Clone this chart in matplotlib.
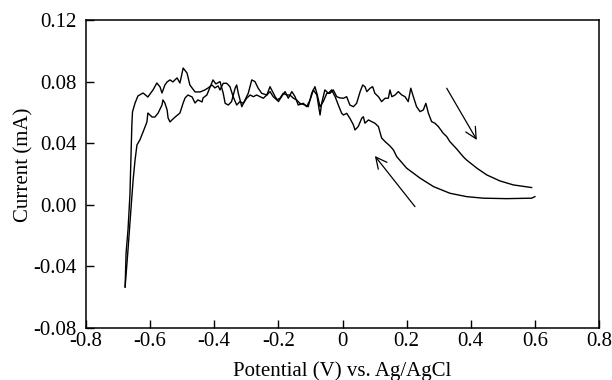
import matplotlib
matplotlib.use("Agg")
import matplotlib.pyplot as plt

plt.rcParams['font.family'] = ['Liberation Serif', 'DejaVu Serif']

# Forward scan (steep rise at left, upper branch at right)
fwd_x = [-0.678, -0.675, -0.669, -0.663, -0.660, -0.657, -0.655, -0.647, -0.638, -0.622,
         -0.607, -0.591, -0.579, -0.569, -0.563, -0.554, -0.547, -0.538, -0.529, -0.516,
         -0.507, -0.497, -0.485, -0.476, -0.460, -0.444, -0.429, -0.419, -0.407, -0.398,
         -0.388, -0.382, -0.372, -0.361, -0.351, -0.341, -0.330, -0.320, -0.309, -0.299,
         -0.288, -0.278, -0.268, -0.257, -0.247, -0.236, -0.226, -0.216, -0.205, -0.195,
         -0.185, -0.174, -0.164, -0.153, -0.143, -0.133, -0.117, -0.107, -0.096, -0.086,
         -0.080, -0.070, -0.060, -0.049, -0.039, -0.029, -0.018, -0.008, 0.003, 0.013,
         0.023, 0.034, 0.044, 0.055, 0.063, 0.070, 0.076, 0.086, 0.094, 0.101,
         0.112, 0.122, 0.133, 0.143, 0.148, 0.154, 0.164, 0.174, 0.185, 0.195,
         0.205, 0.213, 0.221, 0.231, 0.242, 0.252, 0.260, 0.268, 0.278, 0.288,
         0.299, 0.314, 0.325, 0.335, 0.356, 0.377, 0.387, 0.419, 0.450, 0.491,
         0.533, 0.590]
fwd_y = [-0.0534, -0.0313, -0.0163, 0.0064, 0.0291, 0.0518, 0.0603, 0.0661, 0.0707, 0.0726,
         0.0700, 0.0746, 0.0791, 0.0765, 0.0726, 0.0778, 0.0798, 0.0811, 0.0798, 0.0824,
         0.0791, 0.0888, 0.0856, 0.0778, 0.0733, 0.0733, 0.0746, 0.0759, 0.0778, 0.0759,
         0.0772, 0.0746, 0.0789, 0.0789, 0.0767, 0.0702, 0.0648, 0.0670, 0.0659, 0.0692,
         0.0713, 0.0702, 0.0713, 0.0702, 0.0692, 0.0713, 0.0735, 0.0702, 0.0681, 0.0692,
         0.0724, 0.0713, 0.0713, 0.0692, 0.0681, 0.0659, 0.0648, 0.0637, 0.0724, 0.0767,
         0.0724, 0.0637, 0.0670, 0.0724, 0.0724, 0.0746, 0.0702, 0.0694, 0.0692, 0.0702,
         0.0648, 0.0637, 0.0659, 0.0735, 0.0778, 0.0767, 0.0735, 0.0757, 0.0767, 0.0724,
         0.0702, 0.0670, 0.0692, 0.0692, 0.0746, 0.0702, 0.0713, 0.0735, 0.0713, 0.0702,
         0.0670, 0.0757, 0.0702, 0.0637, 0.0605, 0.0616, 0.0659, 0.0594, 0.0540, 0.0530,
         0.0508, 0.0465, 0.0443, 0.0410, 0.0363, 0.0311, 0.0291, 0.0238, 0.0194, 0.0155,
         0.0129, 0.0112]

# Reverse scan (lower branch at right, returning to the left end)
rev_x = [-0.678, -0.669, -0.660, -0.653, -0.647, -0.641, -0.632, -0.622, -0.610, -0.607,
         -0.594, -0.585, -0.575, -0.563, -0.560, -0.554, -0.547, -0.544, -0.538, -0.532,
         -0.522, -0.507, -0.497, -0.491, -0.482, -0.469, -0.460, -0.451, -0.438, -0.435,
         -0.423, -0.413, -0.404, -0.395, -0.382, -0.372, -0.366, -0.356, -0.346, -0.335,
         -0.330, -0.325, -0.314, -0.304, -0.294, -0.283, -0.273, -0.263, -0.252, -0.236,
         -0.226, -0.221, -0.210, -0.200, -0.190, -0.179, -0.169, -0.158, -0.148, -0.138,
         -0.122, -0.112, -0.101, -0.091, -0.080, -0.070, -0.065, -0.055, -0.044, -0.034,
         -0.023, -0.013, -0.003, 0.003, 0.013, 0.023, 0.034, 0.039, 0.049, 0.060,
         0.065, 0.070, 0.081, 0.091, 0.101, 0.112, 0.122, 0.133, 0.148, 0.159,
         0.169, 0.200, 0.242, 0.284, 0.335, 0.387, 0.439, 0.512, 0.590, 0.600]
rev_y = [-0.0534, -0.0293, -0.0033, 0.0162, 0.0291, 0.0389, 0.0421, 0.0473, 0.0538, 0.0596,
         0.0570, 0.0570, 0.0596, 0.0648, 0.0681, 0.0661, 0.0616, 0.0564, 0.0538, 0.0551,
         0.0570, 0.0596, 0.0661, 0.0694, 0.0713, 0.0700, 0.0661, 0.0681, 0.0668, 0.0694,
         0.0713, 0.0765, 0.0811, 0.0785, 0.0800, 0.0724, 0.0659, 0.0648, 0.0670, 0.0757,
         0.0778, 0.0724, 0.0637, 0.0681, 0.0724, 0.0811, 0.0800, 0.0757, 0.0724, 0.0713,
         0.0767, 0.0746, 0.0702, 0.0670, 0.0702, 0.0735, 0.0692, 0.0735, 0.0702, 0.0648,
         0.0659, 0.0637, 0.0681, 0.0746, 0.0713, 0.0583, 0.0659, 0.0746, 0.0724, 0.0746,
         0.0702, 0.0648, 0.0596, 0.0583, 0.0594, 0.0562, 0.0519, 0.0486, 0.0508, 0.0562,
         0.0572, 0.0530, 0.0551, 0.0540, 0.0530, 0.0508, 0.0434, 0.0410, 0.0382, 0.0356,
         0.0313, 0.0238, 0.0173, 0.0118, 0.0075, 0.0053, 0.0043, 0.0040, 0.0043, 0.0053]

# Scan-direction arrows: (tail, tip) in data units
arrow_fwd = ((0.325, 0.0757), (0.419, 0.0421))
arrow_rev = ((0.226, -0.0012), (0.101, 0.0317))

xticks = [-0.8, -0.6, -0.4, -0.2, 0, 0.2, 0.4, 0.6, 0.8]
xticklabels = ['-0.8', '-0.6', '-0.4', '-0.2', '0', '0.2', '0.4', '0.6', '0.8']
yticks = [-0.08, -0.04, 0.00, 0.04, 0.08, 0.12]
yticklabels = ['-0.08', '-0.04', '0.00', '0.04', '0.08', '0.12']

fig = plt.figure(figsize=(6.12, 3.80), dpi=100)
ax = fig.add_axes([86/612, 1 - 328/380, (599-86)/612, (328-20)/380])

ax.plot(fwd_x, fwd_y, color='black', lw=1.0)
ax.plot(rev_x, rev_y, color='black', lw=1.0)

for tail, tip in (arrow_fwd, arrow_rev):
    ax.annotate('', xy=tip, xytext=tail,
                arrowprops=dict(arrowstyle='->', color='black', lw=0.9,
                                mutation_scale=20, shrinkA=0, shrinkB=0))

ax.set_xlim(-0.8, 0.8)
ax.set_ylim(-0.08, 0.12)
ax.set_xticks(xticks)
ax.set_xticklabels(xticklabels)
ax.set_yticks(yticks)
ax.set_yticklabels(yticklabels)
ax.tick_params(direction='in', length=6, width=1, labelsize=15, top=False, right=False)
ax.tick_params(axis='x', pad=3)
ax.tick_params(axis='y', pad=7)
for s in ax.spines.values():
    s.set_linewidth(1.1)

ax.set_xlabel('Potential (V) vs. Ag/AgCl', fontsize=15, labelpad=7)
ax.set_ylabel('Current (mA)', fontsize=15)
ax.yaxis.set_label_coords(-0.103, 0.529)

fig.savefig('out.png', dpi=100)
